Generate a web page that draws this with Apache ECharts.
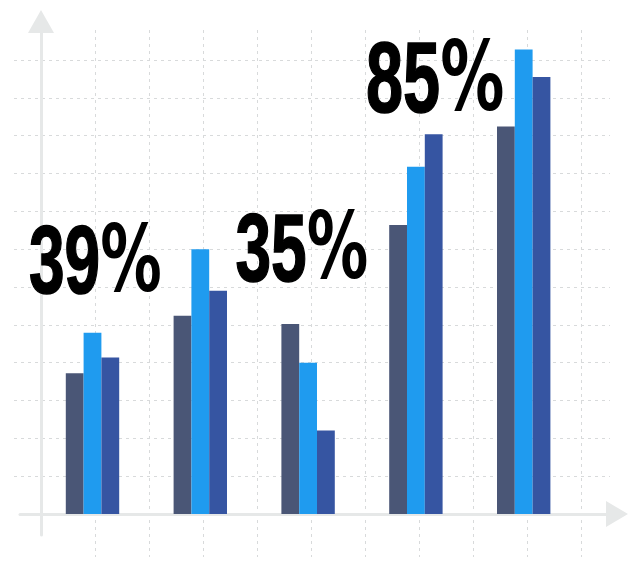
<!DOCTYPE html>
<html>
<head>
<meta charset="utf-8">
<script src="https://cdn.jsdelivr.net/npm/echarts@6/dist/echarts.min.js"></script>
<style>
html,body{margin:0;padding:0;background:#fff;}
#c{width:640px;height:573px;}
</style>
</head>
<body>
<div id="c"></div>
<script>
// ---- data ----
const categories = ['1', '2', '3', '4', '5'];
const seriesA = [37.2, 52.4, 50.2, 76.4, 102.4];   // slate
const seriesB = [47.9, 70.0, 40.0, 91.8, 122.8];   // light blue
const seriesC = [41.4, 59.0, 22.1, 100.4, 115.5];  // dark blue
const bigLabels = ['39%', '35%', '85%'];

// ---- styles ----
const colA = '#4a5676', colB = '#1f9bef', colC = '#3655a2';
const gridCol = '#d8dadb', axisCol = '#e6e8e8';

const chart = echarts.init(document.getElementById('c'), null, {renderer: 'canvas'});

const dashed = {show: true, showMinLine: false, lineStyle: {color: gridCol, width: 1, type: [3, 4]}};
const off = {show: false};

function labelGraphic(txt, x, y, size) {
  const m = txt.match(/^(\d+)(%)$/);
  return {
    type: 'text', x: x, y: y, scaleX: 0.66, z: 100,
    style: {
      text: '{n|' + m[1] + '}{p|' + m[2] + '}',
      fill: '#000', align: 'left', verticalAlign: 'middle',
      rich: {
        n: {font: 'bold ' + size + 'px "Liberation Sans", Arial, sans-serif', fill: '#000', stroke: '#000', lineWidth: 1.6},
        p: {font: 'bold ' + Math.round(size * 0.96) + 'px "DejaVu Sans", sans-serif', fill: '#000'}
      }
    }
  };
}

const option = {
  backgroundColor: '#fff',
  animation: false,
  grid: [
    {left: 14, right: 30, top: 60, bottom: 59},      // horizontal dashed lines
    {left: 41, right: 59, top: 30, bottom: 16},      // vertical dashed lines
    {left: 20, right: 23, top: 21.5, bottom: 38},    // arrow axes
    {left: 38.6, right: 62.4, top: 22.2, bottom: 59} // bars
  ],
  xAxis: [
    {gridIndex: 0, type: 'value', min: 0, max: 1, axisLine: off, axisTick: off, axisLabel: off, splitLine: off},
    {gridIndex: 1, type: 'value', min: 0, max: 10, interval: 1, axisLine: off, axisTick: off, axisLabel: off, splitLine: dashed},
    {gridIndex: 2, type: 'value', min: -21, max: 576, axisTick: off, axisLabel: off, splitLine: off,
      axisLine: {show: true, onZero: true, symbol: ['none', 'triangle'], symbolSize: [26, 22],
        lineStyle: {color: axisCol, width: 3}}},
    {gridIndex: 3, type: 'category', data: categories, axisLine: off, axisTick: off, axisLabel: off, splitLine: off}
  ],
  yAxis: [
    {gridIndex: 0, type: 'value', min: 0, max: 12, interval: 1, axisLine: off, axisTick: off, axisLabel: off, splitLine: dashed},
    {gridIndex: 1, type: 'value', min: 0, max: 1, axisLine: off, axisTick: off, axisLabel: off, splitLine: off},
    {gridIndex: 2, type: 'value', min: -21, max: 492.5, axisTick: off, axisLabel: off, splitLine: off,
      axisLine: {show: true, onZero: true, symbol: ['none', 'triangle'], symbolSize: [26, 23],
        lineStyle: {color: axisCol, width: 3}}},
    {gridIndex: 3, type: 'value', min: 0, max: 130, axisLine: off, axisTick: off, axisLabel: off, splitLine: off}
  ],
  series: [
    {name: 'A', type: 'bar', xAxisIndex: 3, yAxisIndex: 3, data: seriesA, barWidth: 17.8, barGap: '0%',
      itemStyle: {color: colA}, z: 5},
    {name: 'B', type: 'bar', xAxisIndex: 3, yAxisIndex: 3, data: seriesB, barWidth: 17.8, barGap: '0%',
      itemStyle: {color: colB}, z: 5},
    {name: 'C', type: 'bar', xAxisIndex: 3, yAxisIndex: 3, data: seriesC, barWidth: 17.8, barGap: '0%',
      itemStyle: {color: colC}, z: 5}
  ],
  graphic: [
    labelGraphic(bigLabels[0], 29, 266.5, 97),
    labelGraphic(bigLabels[1], 235.5, 254.3, 97),
    labelGraphic(bigLabels[2], 366, 84.5, 101)
  ]
};
chart.setOption(option);
</script>
</body>
</html>
